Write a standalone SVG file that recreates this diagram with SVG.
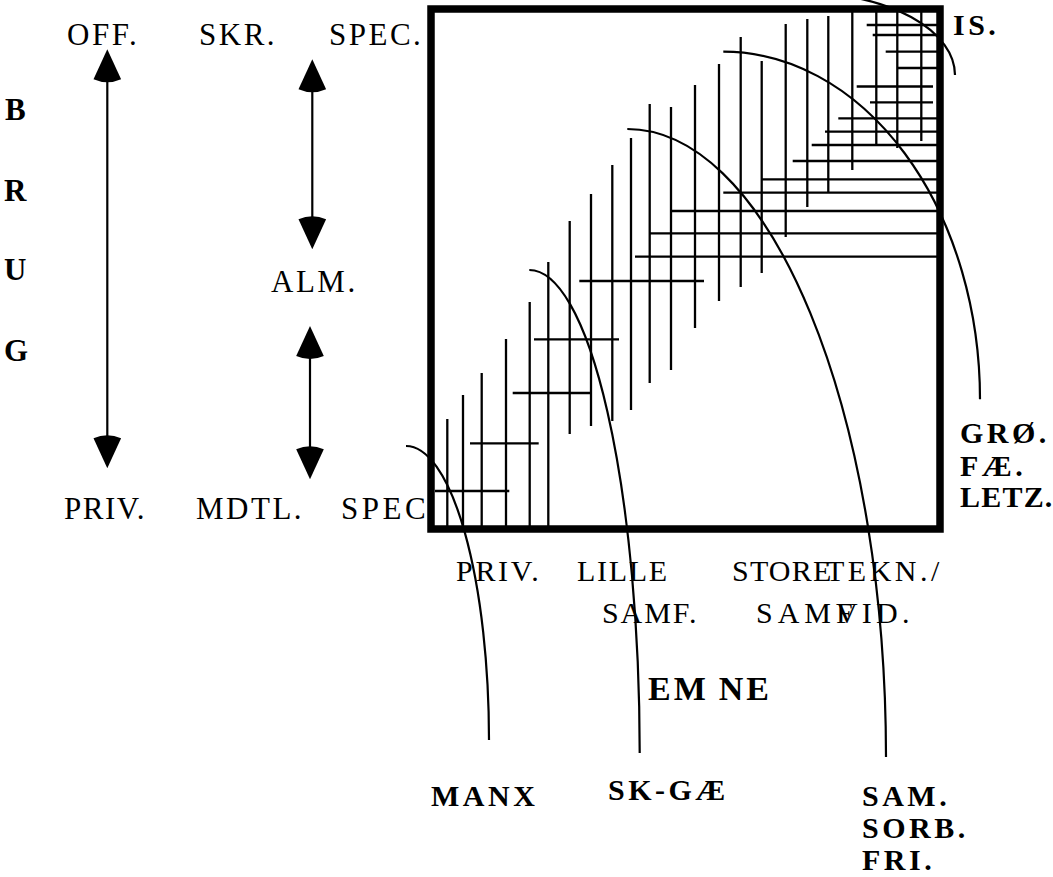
<svg xmlns="http://www.w3.org/2000/svg" width="1053" height="877" viewBox="0 0 1053 877">
<style>
.t{font-family:"Liberation Serif","Times New Roman",serif;font-size:31px;letter-spacing:2.5px;fill:#000}
.x{font-family:"Liberation Serif","Times New Roman",serif;font-size:30px;fill:#000}
.b{font-family:"Liberation Serif","Times New Roman",serif;font-size:30px;font-weight:bold;letter-spacing:3.5px;fill:#000}
.g line{stroke:#000;stroke-width:2.3}
.c path{fill:none;stroke:#000;stroke-width:2.2}
.a line{stroke:#000;stroke-width:2.2}
</style>
<defs>
<marker id="ah" markerUnits="userSpaceOnUse" viewBox="-4 -15 36 30" markerWidth="36" markerHeight="30" refX="26" refY="0" orient="auto-start-reverse">
<path d="M30 0 L0 -13.8 Q-6 0 0 13.8 Z" fill="#000"/>
</marker>
</defs>
<rect width="1053" height="877" fill="#fff"/>
<g id="frame"><rect x="431" y="9" width="509" height="520" fill="none" stroke="#000" stroke-width="7.5"/></g>
<g id="grid" class="g">
<line x1="447.3" y1="419" x2="447.3" y2="529"/>
<line x1="463" y1="395" x2="463" y2="529"/>
<line x1="481.7" y1="373" x2="481.7" y2="529"/>
<line x1="506" y1="339" x2="506" y2="529"/>
<line x1="529.7" y1="302" x2="529.7" y2="529"/>
<line x1="548.3" y1="262" x2="548.3" y2="529"/>
<line x1="569.7" y1="221" x2="569.7" y2="434"/>
<line x1="591" y1="194" x2="591" y2="426"/>
<line x1="612.3" y1="165" x2="612.3" y2="421"/>
<line x1="631" y1="138" x2="631" y2="410"/>
<line x1="649.7" y1="104" x2="649.7" y2="383"/>
<line x1="671" y1="107" x2="671" y2="370"/>
<line x1="695" y1="85" x2="695" y2="328"/>
<line x1="719" y1="64" x2="719" y2="301"/>
<line x1="740.7" y1="37" x2="740.7" y2="287"/>
<line x1="761.7" y1="61" x2="761.7" y2="273"/>
<line x1="785.7" y1="24" x2="785.7" y2="237"/>
<line x1="807.3" y1="19" x2="807.3" y2="207"/>
<line x1="828.3" y1="16" x2="828.3" y2="192"/>
<line x1="852.3" y1="9" x2="852.3" y2="170"/>
<line x1="876.3" y1="9" x2="876.3" y2="146"/>
<line x1="897.3" y1="9" x2="897.3" y2="148"/>
<line x1="921.3" y1="9" x2="921.3" y2="141"/>
<line x1="866.7" y1="25" x2="940" y2="25"/>
<line x1="872.7" y1="35" x2="940" y2="35"/>
<line x1="885.7" y1="51.7" x2="940" y2="51.7"/>
<line x1="897.5" y1="68" x2="940" y2="68"/>
<line x1="856.7" y1="86.5" x2="933" y2="86.5"/>
<line x1="870" y1="102.3" x2="933" y2="102.3"/>
<line x1="838.3" y1="118.3" x2="940" y2="118.3"/>
<line x1="825" y1="131.7" x2="940" y2="131.7"/>
<line x1="811.7" y1="145" x2="940" y2="145"/>
<line x1="792.7" y1="161" x2="940" y2="161"/>
<line x1="761" y1="179.3" x2="940" y2="179.3"/>
<line x1="723.3" y1="192.7" x2="940" y2="192.7"/>
<line x1="670" y1="211" x2="940" y2="211"/>
<line x1="649" y1="233.3" x2="940" y2="233.3"/>
<line x1="635" y1="256.7" x2="940" y2="256.7"/>
<line x1="579.3" y1="281" x2="704" y2="281"/>
<line x1="534" y1="339.3" x2="619" y2="339.3"/>
<line x1="512.7" y1="393" x2="590" y2="393"/>
<line x1="470" y1="443.3" x2="538.7" y2="443.3"/>
<line x1="435" y1="491" x2="509.3" y2="491"/>
</g>
<g id="connectors" class="c">
<path d="M406 446 A83 294 0 0 1 489 740"/>
<path d="M529.3 270 A110.4 483 0 0 1 639.7 753"/>
<path d="M627.3 129 A258.7 628 0 0 1 886 757"/>
<path d="M723.3 51.7 A256.7 347.6 0 0 1 980 399.3"/>
<path d="M805 -7 A150 82 0 0 1 955 75"/>
</g>
<g id="arrows" class="a">
<line x1="107.3" y1="53.3" x2="107.3" y2="464.3" marker-start="url(#ah)" marker-end="url(#ah)"/>
<line x1="312.3" y1="63.3" x2="312.3" y2="245.3" marker-start="url(#ah)" marker-end="url(#ah)"/>
<line x1="310" y1="330" x2="310" y2="475.3" marker-start="url(#ah)" marker-end="url(#ah)"/>
</g>
<g id="brug-labels">
<text class="b" x="5" y="120" style="font-size:31px">B</text>
<text class="b" x="4" y="201" style="font-size:31px">R</text>
<text class="b" x="4" y="280" style="font-size:31px">U</text>
<text class="b" x="4" y="361" style="font-size:31px">G</text>
</g>
<g id="use-labels">
<text class="t" x="67" y="45">OFF.</text>
<text class="t" x="199" y="45">SKR.</text>
<text class="t" x="329" y="45">SPEC.</text>
<text class="t" x="271" y="292">ALM.</text>
<text class="t" x="64" y="519" style="letter-spacing:1.5px">PRIV.</text>
<text class="t" x="196" y="519">MDTL.</text>
<text class="t" x="341" y="519" style="letter-spacing:3.5px">SPEC</text>
</g>
<g id="topic-labels">
<text class="x" x="456" y="581" style="letter-spacing:2.7px">PRIV.</text>
<text class="x" x="577" y="581" style="letter-spacing:1.7px">LILLE</text>
<text class="x" x="732" y="581" style="letter-spacing:1.2px">STORE</text>
<text class="x" x="826" y="581" style="letter-spacing:3.5px">TEKN./</text>
<text class="x" x="602" y="623" style="letter-spacing:1.9px">SAMF.</text>
<text class="x" x="756" y="623" style="letter-spacing:5px">SAMF</text>
<text class="x" x="836" y="623" style="letter-spacing:4.2px">VID.</text>
<text class="b" x="648" y="700" style="font-size:34px;letter-spacing:3px">EM<tspan dx="10">NE</tspan></text>
</g>
<g id="lang-labels">
<text class="b" x="953" y="35">IS.</text>
<text class="b" x="960" y="443">GRØ.</text>
<text class="b" x="960" y="476">FÆ.</text>
<text class="b" x="960" y="507" style="letter-spacing:1.2px">LETZ.</text>
<text class="b" x="431" y="806">MANX</text>
<text class="b" x="608" y="800">SK-GÆ</text>
<text class="b" x="862" y="806">SAM.</text>
<text class="b" x="862" y="838">SORB.</text>
<text class="b" x="862" y="870">FRI.</text>
</g>
</svg>
